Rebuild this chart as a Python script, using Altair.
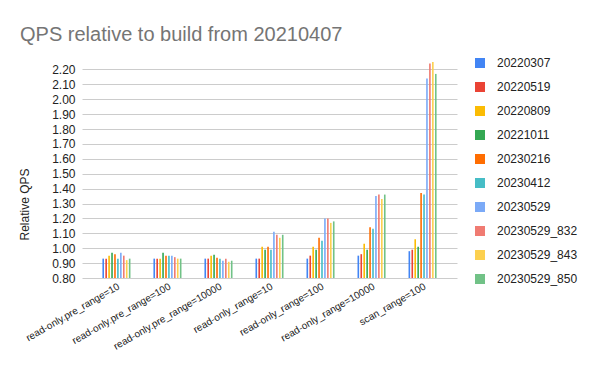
import altair as alt
import pandas as pd

categories = [
    "read-only.pre_range=10",
    "read-only.pre_range=100",
    "read-only.pre_range=10000",
    "read-only_range=10",
    "read-only_range=100",
    "read-only_range=10000",
    "scan_range=100",
]
series = ["20220307", "20220519", "20220809", "20221011", "20230216",
          "20230412", "20230529", "20230529_832", "20230529_843", "20230529_850"]
colors = ["#4285F4", "#EA4335", "#FBBC04", "#34A853", "#FF6D01",
          "#46BDC6", "#7BAAF7", "#F07B72", "#FCD04F", "#71C287"]

v_20220307 = [0.93, 0.93, 0.93, 0.93, 0.93, 0.95, 0.98]
v_20220519 = [0.93, 0.93, 0.93, 0.93, 0.95, 0.96, 0.99]
v_20220809 = [0.95, 0.93, 0.95, 1.01, 1.01, 1.03, 1.06]
v_20221011 = [0.97, 0.97, 0.956, 0.99, 0.99, 0.99, 1.01]
v_20230216 = [0.96, 0.95, 0.936, 1.01, 1.07, 1.14, 1.37]
v_20230412 = [0.93, 0.95, 0.93, 0.99, 1.05, 1.13, 1.36]
v_20230529 = [0.97, 0.95, 0.916, 1.11, 1.20, 1.35, 2.14]
v_20230529_832 = [0.95, 0.94, 0.93, 1.09, 1.20, 1.36, 2.24]
v_20230529_843 = [0.92, 0.93, 0.909, 1.07, 1.17, 1.33, 2.25]
v_20230529_850 = [0.93, 0.93, 0.916, 1.09, 1.18, 1.36, 2.17]

all_values = [v_20220307, v_20220519, v_20220809, v_20221011, v_20230216,
              v_20230412, v_20230529, v_20230529_832, v_20230529_843, v_20230529_850]

y_ticks = [0.80, 0.90, 1.00, 1.10, 1.20, 1.30, 1.40, 1.50, 1.60, 1.70,
           1.80, 1.90, 2.00, 2.10, 2.20]

rows = []
for s, vals in zip(series, all_values):
    for c, v in zip(categories, vals):
        rows.append({"category": c, "series": s, "value": v})
df = pd.DataFrame(rows)

FONT = "Liberation Sans"

chart = alt.Chart(df).mark_bar().encode(
    x=alt.X("category:N", sort=categories,
            scale=alt.Scale(paddingInner=0.45, paddingOuter=0.4),
            axis=alt.Axis(title=None, labelAngle=-30, labelAlign="right",
                          labelBaseline="top", labelFontSize=10, labelColor="#222222",
                          labelFont=FONT, ticks=False, domain=False, labelPadding=3,
                          labelOverlap=False, grid=False)),
    xOffset=alt.XOffset("series:N", sort=series,
                        scale=alt.Scale(paddingInner=0.45, paddingOuter=0)),
    y=alt.Y("value:Q",
            scale=alt.Scale(domain=[0.8, 2.25], zero=False, nice=False),
            axis=alt.Axis(title="Relative QPS", values=y_ticks, format=".2f",
                          labelFontSize=12, labelColor="#222222", labelFont=FONT,
                          labelPadding=7, ticks=False, domain=False,
                          gridColor="#cccccc", gridWidth=1,
                          titleFont=FONT, titleFontSize=12, titleFontWeight="normal",
                          titleColor="#222222", titleX=-58, titleY=142,
                          titleAlign="center", titleBaseline="middle")),
    y2=alt.datum(0.8),
    color=alt.Color("series:N", sort=series,
                    scale=alt.Scale(domain=series, range=colors),
                    legend=alt.Legend(title=None, orient="none", legendX=392, legendY=-5,
                                      symbolType="square", symbolSize=100,
                                      symbolStrokeWidth=0, symbolOpacity=1,
                                      labelFont=FONT, labelFontSize=12,
                                      labelColor="#222222", labelOffset=11,
                                      rowPadding=12, padding=0)),
).properties(
    width=375,
    height=216,
    title=alt.TitleParams(
        text="QPS relative to build from 20210407",
        anchor="start", frame="group", dx=-62, dy=28, fontSize=20, font=FONT,
        fontWeight="normal", color="#757575", offset=24, baseline="alphabetic",
    ),
    autosize=alt.AutoSizeParams(type="none"),
    padding={"left": 74, "top": 54, "right": 135, "bottom": 85},
).configure_view(stroke=None)

chart.save("out.html", embed_options={"renderer": "svg", "actions": False})
